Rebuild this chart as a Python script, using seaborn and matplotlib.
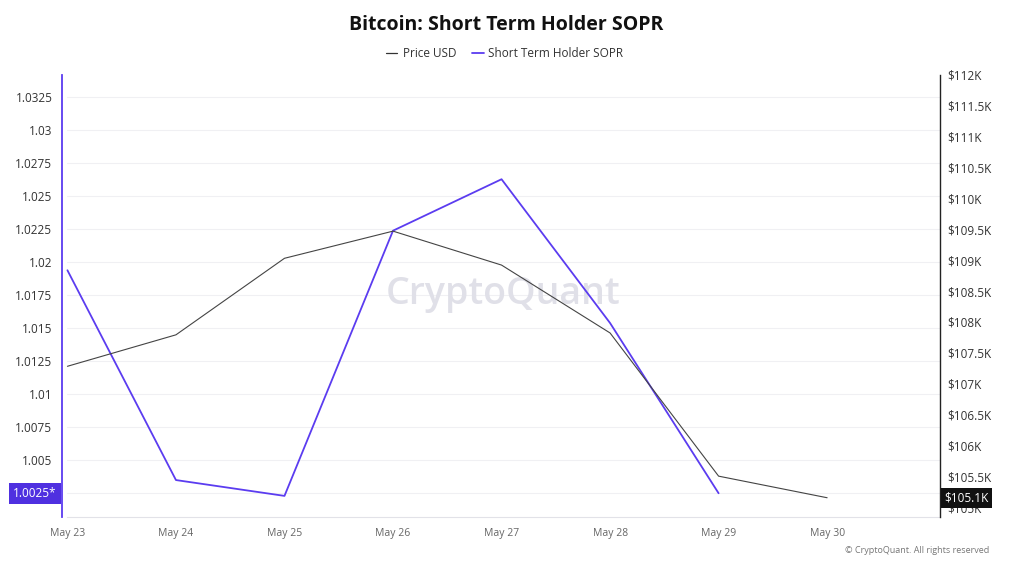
import numpy as np
import pandas as pd
import matplotlib
matplotlib.use("Agg")
import matplotlib.pyplot as plt
from matplotlib.lines import Line2D
import seaborn as sns

# data
dates = ["May 23", "May 24", "May 25", "May 26", "May 27", "May 28", "May 29", "May 30"]
price_usd = [107280, 107790, 109030, 109470, 108920, 107820, 105500, 105150]
sth_sopr = [1.0194, 1.0035, 1.0023, 1.0224, 1.0263, 1.0154, 1.0025, np.nan]

left_ticks = [1.0025, 1.005, 1.0075, 1.01, 1.0125, 1.015, 1.0175, 1.02, 1.0225, 1.025, 1.0275, 1.03, 1.0325]
left_labels = ["", "1.005", "1.0075", "1.01", "1.0125", "1.015", "1.0175", "1.02", "1.0225", "1.025", "1.0275", "1.03", "1.0325"]
right_ticks = list(range(105000, 112001, 500))
right_labels = ["$105K", "$105.5K", "$106K", "$106.5K", "$107K", "$107.5K", "$108K", "$108.5K",
                "$109K", "$109.5K", "$110K", "$110.5K", "$111K", "$111.5K", "$112K"]

purple = "#5b3cf0"
df = pd.DataFrame({"day": np.arange(len(dates)), "price": price_usd, "sopr": sth_sopr})

sns.set_style("white")
plt.rcParams['font.family'] = ['Open Sans', 'DejaVu Sans']

fig = plt.figure(figsize=(10.12, 5.63), dpi=100)
ax = fig.add_axes([62 / 1012, 1 - 517 / 563, (940 - 62) / 1012, (517 - 75) / 563])
ax2 = ax.twinx()

# grid + watermark under everything
for t in left_ticks:
    ax.axhline(t, xmin=0.006, xmax=1.0, color="#f0f0f3", linewidth=0.8, zorder=0)
ax.text(0.497, 0.478, "CryptoQuant", transform=fig.transFigure, ha="center", va="center",
        fontsize=27, fontweight="semibold", color="#e0e0e8", zorder=0.5)

sns.lineplot(data=df, x="day", y="price", ax=ax2, color="#444444", linewidth=0.8, zorder=2)
sns.lineplot(data=df, x="day", y="sopr", ax=ax, color=purple, linewidth=1.3, zorder=3)

ax.set_xlim(-0.05, 8.04)
ax.set_ylim(1.0007, 1.0342)
ax2.set_ylim(104838, 112000)

# left axis
ax.set_yticks(left_ticks)
ax.set_yticklabels(left_labels, fontsize=8.5, color="#333333")
ax.tick_params(axis="y", length=0, pad=7)

# right axis
ax2.set_yticks(right_ticks)
ax2.set_yticklabels(right_labels, fontsize=8.5, color="#333333")
ax2.tick_params(axis="y", length=0, pad=5)

ax.set_xticks(df["day"])
ax.set_xticklabels(dates, fontsize=7.5, color="#666666")
ax.tick_params(axis="x", length=4, color="#d8d8e0", pad=4)
ax.set_xlabel("")
ax.set_ylabel("")
ax2.set_ylabel("")

for a in (ax, ax2):
    for s in a.spines.values():
        s.set_visible(False)
ax.spines["left"].set_visible(True)
ax.spines["left"].set_color(purple)
ax.spines["left"].set_linewidth(1.3)
ax2.spines["right"].set_visible(True)
ax2.spines["right"].set_color("#222222")
ax2.spines["right"].set_linewidth(1.0)
ax.spines["bottom"].set_visible(True)
ax.spines["bottom"].set_color("#e2e2e8")
ax.spines["bottom"].set_bounds(0, 8.04)

# value boxes on both axes
ax.annotate("1.0025*", xy=(0, 1.0025), xycoords=("axes fraction", "data"), xytext=(-4, 0),
            textcoords="offset points", ha="right", va="center", fontsize=8.5, color="white",
            bbox=dict(boxstyle="square,pad=0.35", fc="#4f30e0", ec="none"), annotation_clip=False)
ax2.annotate("$105.1K", xy=(1, price_usd[-1]), xycoords=("axes fraction", "data"), xytext=(3, 0),
             textcoords="offset points", ha="left", va="center", fontsize=8.5, color="white",
             bbox=dict(boxstyle="square,pad=0.3", fc="#111111", ec="none"), annotation_clip=False)

# title and legend
fig.text(0.5, 0.955, "Bitcoin: Short Term Holder SOPR", ha="center", va="center",
         fontsize=14, fontweight="bold", color="#111111")
fig.add_artist(Line2D([386 / 1012, 397 / 1012], [0.905, 0.905], color="#333333", linewidth=0.9))
fig.text(0.398, 0.905, "Price USD", ha="left", va="center", fontsize=8.5, color="#333333")
fig.add_artist(Line2D([472 / 1012, 484 / 1012], [0.905, 0.905], color=purple, linewidth=1.3))
fig.text(0.482, 0.905, "Short Term Holder SOPR", ha="left", va="center", fontsize=8.5, color="#333333")

fig.text(0.978, 0.022, "© CryptoQuant. All rights reserved", ha="right", va="center",
         fontsize=6.5, color="#777777")

fig.savefig("out.png", dpi=100, facecolor="white")
